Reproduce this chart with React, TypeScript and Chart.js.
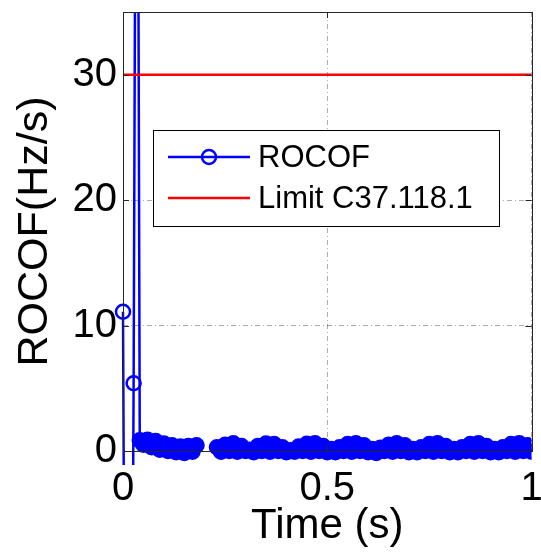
import React, { useEffect, useRef } from "react";
import { Chart, registerables } from "chart.js";

Chart.register(...registerables);

// ---- data ----
const rocofTime = [
  0, 0.013, 0.026, 0.034, 0.041, 0.05, 0.06, 0.07, 0.08, 0.09,
  0.1, 0.11, 0.12, 0.13, 0.14, 0.15, 0.16, 0.17, 0.18, 0.19,
  0.2, 0.21, 0.22, 0.23, 0.24, 0.25, 0.26, 0.27, 0.28, 0.29,
  0.3, 0.31, 0.32, 0.33, 0.34, 0.35, 0.36, 0.37, 0.38, 0.39,
  0.4, 0.41, 0.42, 0.43, 0.44, 0.45, 0.46, 0.47, 0.48, 0.49,
  0.5, 0.51, 0.52, 0.53, 0.54, 0.55, 0.56, 0.57, 0.58, 0.59,
  0.6, 0.61, 0.62, 0.63, 0.64, 0.65, 0.66, 0.67, 0.68, 0.69,
  0.7, 0.71, 0.72, 0.73, 0.74, 0.75, 0.76, 0.77, 0.78, 0.79,
  0.8, 0.81, 0.82, 0.83, 0.84, 0.85, 0.86, 0.87, 0.88, 0.89,
  0.9, 0.91, 0.92, 0.93, 0.94, 0.95, 0.96, 0.97, 0.98, 0.99,
  1.0,
];
const rocofValue: (number | null)[] = [
  11.1, -80, 5.4, 80, 0.85, 0.5, 0.9, 0.3, 0.8, 0.1,
  0.6, 0.0, 0.45, -0.1, 0.35, -0.15, 0.4, -0.05, 0.45, null,
  null, null, null, 0.3, -0.05, 0.5, 0.0, 0.62, -0.05, 0.4,
  0.0, 0.1, -0.1, 0.4, 0.0, 0.6, -0.05, 0.55, 0.0, 0.3,
  -0.1, 0.05, -0.05, 0.35, 0.0, 0.58, -0.05, 0.62, 0.0, 0.4,
  -0.1, 0.15, -0.1, 0.3, 0.0, 0.55, -0.05, 0.62, 0.0, 0.45,
  -0.1, 0.15, -0.15, 0.25, 0.0, 0.5, -0.05, 0.62, 0.0, 0.45,
  -0.1, 0.15, -0.1, 0.3, 0.0, 0.55, -0.05, 0.62, 0.0, 0.4,
  -0.1, 0.15, -0.1, 0.3, 0.0, 0.55, -0.05, 0.62, 0.0, 0.4,
  -0.1, 0.15, -0.1, 0.3, 0.0, 0.55, -0.05, 0.62, 0.0, 0.45,
  -0.05,
];
const limitTime = [0, 1];
const limitValue = [30, 30];

const xTicks = [0, 0.5, 1];
const yTicks = [0, 10, 20, 30];
const xRange = [0, 1];
const yRange = [0, 35];
const seriesLabels = ["ROCOF", "Limit C37.118.1"];
const xTitle = "Time (s)";
const yTitle = "ROCOF(Hz/s)";

// ---- styles ----
const FONT = "'Liberation Sans', Arial, Helvetica, sans-serif";
const BLUE = "#0000ff";
const RED = "#ff0000";
const AXIS = "#262626";
const OPEN_MARKERS = 3; // first markers that show as open rings (others overlap into a solid band)

const overlayPlugin = {
  id: "overlay",
  afterDatasetsDraw(chart: any) {
    const { ctx, chartArea: a, scales } = chart;
    const xs = scales.x;
    const ys = scales.y;
    ctx.save();
    // inner tick marks
    ctx.strokeStyle = AXIS;
    ctx.lineWidth = 1;
    const tl = 6;
    ctx.beginPath();
    yTicks.forEach((v) => {
      const py = Math.round(ys.getPixelForValue(v)) + 0.5;
      ctx.moveTo(a.left, py);
      ctx.lineTo(a.left + tl, py);
      ctx.moveTo(a.right, py);
      ctx.lineTo(a.right - tl, py);
    });
    xTicks.forEach((v) => {
      const px = Math.round(xs.getPixelForValue(v)) + 0.5;
      ctx.moveTo(px, a.bottom);
      ctx.lineTo(px, a.bottom - tl);
      ctx.moveTo(px, a.top);
      ctx.lineTo(px, a.top + tl);
    });
    ctx.stroke();
    // box
    ctx.strokeRect(
      Math.round(a.left) + 0.5,
      Math.round(a.top) + 0.5,
      Math.round(a.right - a.left),
      Math.round(a.bottom - a.top)
    );

    // legend
    const lx = 153, ly = 130, lw = 346, lh = 96;
    ctx.fillStyle = "#ffffff";
    ctx.fillRect(lx, ly, lw, lh);
    ctx.strokeStyle = "#000000";
    ctx.lineWidth = 1;
    ctx.strokeRect(lx + 0.5, ly + 0.5, lw, lh);
    const rows = [
      { y: 157, color: BLUE, marker: true, label: seriesLabels[0] },
      { y: 198, color: RED, marker: false, label: seriesLabels[1] },
    ];
    rows.forEach((r) => {
      ctx.strokeStyle = r.color;
      ctx.lineWidth = 2.5;
      ctx.beginPath();
      ctx.moveTo(168, r.y);
      ctx.lineTo(250, r.y);
      ctx.stroke();
      if (r.marker) {
        ctx.beginPath();
        ctx.arc(209, r.y, 7, 0, Math.PI * 2);
        ctx.stroke();
      }
      ctx.fillStyle = "#000000";
      ctx.font = `31px ${FONT}`;
      ctx.textAlign = "left";
      ctx.textBaseline = "middle";
      ctx.fillText(r.label, 258, r.y + 1);
    });

    // axis titles
    ctx.fillStyle = "#000000";
    ctx.font = `42px ${FONT}`;
    ctx.textAlign = "center";
    ctx.textBaseline = "alphabetic";
    ctx.fillText(xTitle, (a.left + a.right) / 2, 538);
    ctx.save();
    ctx.translate(47, (a.top + a.bottom) / 2);
    ctx.rotate(-Math.PI / 2);
    ctx.font = `43px ${FONT}`;
    ctx.fillText(yTitle, 0, 0);
    ctx.restore();
    ctx.restore();
  },
};

export default function App() {
  const ref = useRef<HTMLCanvasElement | null>(null);
  useEffect(() => {
    if (!ref.current) return;
    const chart = new Chart(ref.current, {
      type: "line",
      data: {
        datasets: [
          {
            label: seriesLabels[0],
            data: rocofTime.map((t, i) => ({ x: t, y: rocofValue[i] })),
            borderColor: BLUE,
            borderWidth: 2.5,
            pointStyle: "circle",
            pointRadius: 7,
            pointBorderWidth: 2.5,
            pointBorderColor: BLUE,
            pointBackgroundColor: (c: any) =>
              c.dataIndex < OPEN_MARKERS ? "rgba(0,0,0,0)" : BLUE,
            spanGaps: false,
            tension: 0,
            order: 2,
            clip: { left: 12, top: 0, right: 0, bottom: 14 },
          } as any,
          {
            label: seriesLabels[1],
            data: limitTime.map((t, i) => ({ x: t, y: limitValue[i] })),
            borderColor: RED,
            borderWidth: 2.5,
            pointRadius: 0,
            tension: 0,
            order: 1,
            clip: 0,
          } as any,
        ],
      },
      options: {
        responsive: false,
        animation: false,
        events: [],
        layout: { padding: { top: 12, right: 4, left: 0, bottom: 0 } },
        plugins: {
          legend: { display: false },
          tooltip: { enabled: false },
          title: { display: false },
        },
        scales: {
          x: {
            type: "linear",
            min: xRange[0],
            max: xRange[1],
            afterBuildTicks: (s: any) => {
              s.ticks = xTicks.map((v) => ({ value: v }));
            },
            afterFit: (s: any) => {
              s.height = 105;
              s.paddingLeft = 0;
              s.paddingRight = 0;
            },
            ticks: {
              color: "#000",
              font: { family: FONT, size: 40 },
              padding: 14,
              maxRotation: 0,
              autoSkip: false,
              callback: (v: any) => String(v),
            },
            grid: {
              color: "rgba(0,0,0,0.32)",
              lineWidth: 1,
              drawTicks: false,
            },
            border: { display: false, dash: [5, 3, 1, 3] },
          },
          y: {
            type: "linear",
            min: yRange[0],
            max: yRange[1],
            afterBuildTicks: (s: any) => {
              s.ticks = yTicks.map((v) => ({ value: v }));
            },
            afterFit: (s: any) => {
              s.width = 123;
              s.paddingTop = 0;
              s.paddingBottom = 0;
            },
            ticks: {
              color: "#000",
              font: { family: FONT, size: 40 },
              padding: 6,
              autoSkip: false,
              callback: (v: any) => String(v),
            },
            grid: {
              color: "rgba(0,0,0,0.32)",
              lineWidth: 1,
              drawTicks: false,
            },
            border: { display: false, dash: [5, 3, 1, 3] },
          },
        },
      },
      plugins: [overlayPlugin],
    });
    return () => chart.destroy();
  }, []);
  return (
    <div style={{ position: "fixed", left: 0, top: 0, width: 541, height: 556, background: "#fff" }}>
      <canvas ref={ref} width={541} height={556} />
    </div>
  );
}
